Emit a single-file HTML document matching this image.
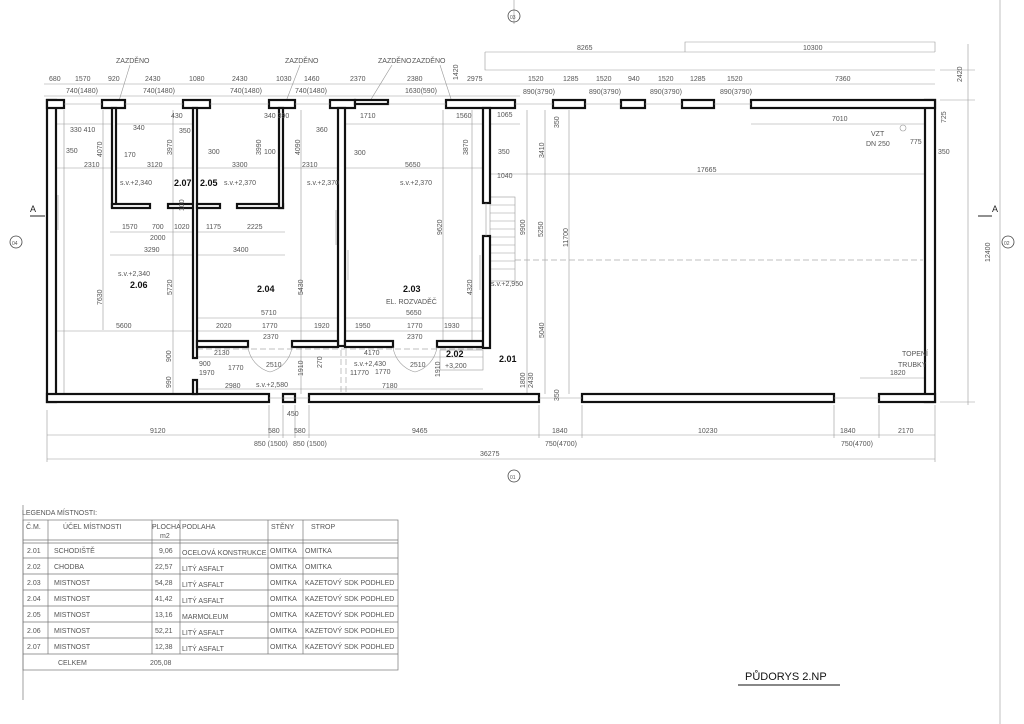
<!DOCTYPE html>
<html><head><meta charset="utf-8"><style>
html,body{margin:0;padding:0;background:#fff;width:1024px;height:724px;overflow:hidden}
svg{display:block}
text{font-family:"Liberation Sans",sans-serif;fill:#555;font-size:7px}
.b{fill:#111;font-weight:bold;font-size:9px}
.w{fill:#fff;stroke:#111;stroke-width:2.2}
.d{stroke:#999;stroke-width:0.6;fill:none}
.dd{stroke:#aaa;stroke-width:0.7;fill:none;stroke-dasharray:6 3}
.t{font-size:7px;fill:#666}
</style></head><body>
<svg width="1024" height="724" viewBox="0 0 1024 724" xmlns="http://www.w3.org/2000/svg">
<g class="d">
<line x1="44" y1="84" x2="935" y2="84"/>
<line x1="44" y1="96" x2="520" y2="96"/>
<line x1="485" y1="52" x2="935" y2="52"/>
<polyline points="685,52 685,42 935,42 935,52"/>
<polyline points="485,52 485,70 935,70"/>
<line x1="968" y1="44" x2="968" y2="405"/>
<line x1="940" y1="70" x2="975" y2="70"/>
<line x1="940" y1="100" x2="975" y2="100"/>
<line x1="940" y1="402" x2="975" y2="402"/>
<line x1="56" y1="168" x2="490" y2="168"/>
<line x1="490" y1="174" x2="935" y2="174"/>
<line x1="751" y1="124" x2="925" y2="124"/>
<line x1="47" y1="435" x2="935" y2="435"/>
<line x1="47" y1="459" x2="935" y2="459"/>
<line x1="47" y1="410" x2="47" y2="462"/>
<line x1="269" y1="405" x2="269" y2="438"/>
<line x1="283" y1="405" x2="283" y2="438"/>
<line x1="295" y1="405" x2="295" y2="438"/>
<line x1="309" y1="405" x2="309" y2="438"/>
<line x1="539" y1="405" x2="539" y2="438"/>
<line x1="582" y1="405" x2="582" y2="438"/>
<line x1="834" y1="405" x2="834" y2="438"/>
<line x1="879" y1="405" x2="879" y2="438"/>
<line x1="935" y1="405" x2="935" y2="462"/>
<line x1="527" y1="110" x2="527" y2="394"/>
<line x1="545" y1="110" x2="545" y2="394"/>
<line x1="569" y1="110" x2="569" y2="394"/>
<line x1="64" y1="110" x2="64" y2="394"/>
<line x1="103" y1="110" x2="103" y2="330"/>
<line x1="173" y1="110" x2="173" y2="394"/>
<line x1="301" y1="110" x2="301" y2="394"/>
<line x1="443" y1="110" x2="443" y2="346"/>
<line x1="472" y1="110" x2="472" y2="346"/>
<line x1="56" y1="331" x2="193" y2="331"/>
<line x1="197" y1="318" x2="338" y2="318"/>
<line x1="197" y1="331" x2="338" y2="331"/>
<line x1="345" y1="318" x2="483" y2="318"/>
<line x1="345" y1="331" x2="483" y2="331"/>
<line x1="110" y1="232" x2="193" y2="232"/>
<line x1="110" y1="255" x2="193" y2="255"/>
<line x1="197" y1="232" x2="285" y2="232"/>
<line x1="197" y1="255" x2="285" y2="255"/>
<line x1="197" y1="389" x2="483" y2="389"/>
<line x1="197" y1="357" x2="483" y2="357"/>
<line x1="56" y1="124" x2="193" y2="124"/>
<line x1="345" y1="124" x2="440" y2="124"/>
<line x1="440" y1="124" x2="483" y2="124"/>
<line x1="490" y1="124" x2="520" y2="124"/>
<line x1="860" y1="378" x2="925" y2="378"/>
<line x1="514" y1="0" x2="514" y2="24"/>
<line x1="1000" y1="0" x2="1000" y2="724"/>
<line x1="130" y1="65" x2="118" y2="104"/><line x1="300" y1="65" x2="285" y2="104"/><line x1="392" y1="65" x2="370" y2="101"/><line x1="440" y1="65" x2="452" y2="102"/>
</g>
<line class="dd" x1="515" y1="260" x2="923" y2="260"/>
<line class="dd" x1="197" y1="349" x2="483" y2="349"/>
<line class="dd" x1="341" y1="350" x2="341" y2="394"/>
<line class="dd" x1="346" y1="350" x2="346" y2="394"/>
<g class="d">
<rect x="490" y="197" width="25" height="84"/>
<line x1="490" y1="205" x2="515" y2="205"/><line x1="490" y1="213" x2="515" y2="213"/><line x1="490" y1="221" x2="515" y2="221"/><line x1="490" y1="229" x2="515" y2="229"/><line x1="490" y1="237" x2="515" y2="237"/><line x1="490" y1="245" x2="515" y2="245"/><line x1="490" y1="253" x2="515" y2="253"/><line x1="490" y1="261" x2="515" y2="261"/><line x1="490" y1="269" x2="515" y2="269"/>
</g>
<rect class="w" x="47" y="100" width="9" height="302"/>
<rect class="w" x="925" y="100" width="10" height="302"/>
<rect class="w" x="47" y="100" width="17" height="8"/>
<rect class="w" x="102" y="100" width="23" height="8"/>
<rect class="w" x="183" y="100" width="27" height="8"/>
<rect class="w" x="269" y="100" width="26" height="8"/>
<rect class="w" x="330" y="100" width="25" height="8"/>
<rect class="w" x="355" y="100" width="33" height="4"/>
<rect class="w" x="446" y="100" width="69" height="8"/>
<rect class="w" x="553" y="100" width="32" height="8"/>
<rect class="w" x="621" y="100" width="24" height="8"/>
<rect class="w" x="682" y="100" width="32" height="8"/>
<rect class="w" x="751" y="100" width="184" height="8"/>
<rect class="w" x="47" y="394" width="222" height="8"/>
<rect class="w" x="283" y="394" width="12" height="8"/>
<rect class="w" x="309" y="394" width="230" height="8"/>
<rect class="w" x="582" y="394" width="252" height="8"/>
<rect class="w" x="879" y="394" width="56" height="8"/>
<g class="d"><line x1="64" y1="104" x2="102" y2="104"/><line x1="125" y1="104" x2="183" y2="104"/><line x1="210" y1="104" x2="269" y2="104"/><line x1="295" y1="104" x2="330" y2="104"/><line x1="388" y1="104" x2="446" y2="104"/><line x1="515" y1="104" x2="553" y2="104"/><line x1="585" y1="104" x2="621" y2="104"/><line x1="645" y1="104" x2="682" y2="104"/><line x1="714" y1="104" x2="751" y2="104"/><line x1="539" y1="398" x2="582" y2="398"/><line x1="834" y1="398" x2="879" y2="398"/><line x1="269" y1="398" x2="309" y2="398"/></g>
<rect class="w" x="112" y="108" width="4" height="99"/>
<rect class="w" x="112" y="204" width="38" height="4"/>
<rect class="w" x="168" y="204" width="29" height="4"/>
<rect class="w" x="193" y="108" width="4" height="250"/>
<rect class="w" x="193" y="380" width="4" height="14"/>
<rect class="w" x="197" y="204" width="23" height="4"/>
<rect class="w" x="237" y="204" width="46" height="4"/>
<rect class="w" x="279" y="108" width="4" height="100"/>
<rect class="w" x="338" y="108" width="7" height="238"/>
<rect class="w" x="197" y="341" width="51" height="6"/>
<rect class="w" x="292" y="341" width="46" height="6"/>
<rect class="w" x="345" y="341" width="48" height="6"/>
<rect class="w" x="437" y="341" width="46" height="6"/>
<rect class="w" x="483" y="108" width="7" height="95"/>
<rect class="w" x="483" y="236" width="7" height="112"/>
<g class="d"><line x1="486" y1="203" x2="486" y2="236"/><line x1="58" y1="195" x2="58" y2="230"/><line x1="336" y1="210" x2="336" y2="245"/><line x1="348" y1="250" x2="348" y2="280"/><line x1="480" y1="255" x2="480" y2="290"/><path d="M248,347 A30,30 0 0 0 270,372"/><path d="M292,347 A30,30 0 0 1 270,372"/><path d="M393,347 A30,30 0 0 0 415,372"/><path d="M437,347 A30,30 0 0 1 415,372"/><rect x="440" y="350" width="43" height="20"/><circle cx="903" cy="128" r="3"/></g>
<text class="b" x="174" y="186">2.07</text><text class="b" x="200" y="186">2.05</text>
<text class="b" x="257" y="292">2.04</text><text class="b" x="130" y="288">2.06</text>
<text class="b" x="403" y="292">2.03</text><text class="b" x="446" y="357">2.02</text><text class="b" x="499" y="362">2.01</text>
<text x="120" y="185">s.v.+2,340</text><text x="224" y="185">s.v.+2,370</text><text x="307" y="185">s.v.+2,370</text><text x="400" y="185">s.v.+2,370</text>
<text x="118" y="276">s.v.+2,340</text><text x="386" y="304">EL. ROZVADĚČ</text><text x="354" y="366">s.v.+2,430</text>
<text x="256" y="387">s.v.+2,580</text><text x="445" y="368">+3,200</text><text x="491" y="286">s.v.+2,950</text>
<text x="871" y="136">VZT</text><text x="866" y="146">DN 250</text><text x="902" y="356">TOPENÍ</text><text x="898" y="367">TRUBKY</text>
<text x="116" y="63">ZAZDĚNO</text><text x="285" y="63">ZAZDĚNO</text><text x="378" y="63">ZAZDĚNO</text><text x="412" y="63">ZAZDĚNO</text>
<g class="t">
<text x="49" y="81">680</text><text x="75" y="81">1570</text><text x="108" y="81">920</text><text x="145" y="81">2430</text><text x="189" y="81">1080</text><text x="232" y="81">2430</text><text x="276" y="81">1030</text><text x="304" y="81">1460</text><text x="350" y="81">2370</text><text x="407" y="81">2380</text><text x="467" y="81">2975</text>
<text x="528" y="81">1520</text><text x="563" y="81">1285</text><text x="596" y="81">1520</text><text x="628" y="81">940</text><text x="658" y="81">1520</text><text x="690" y="81">1285</text><text x="727" y="81">1520</text><text x="835" y="81">7360</text>
<text x="66" y="93">740(1480)</text><text x="143" y="93">740(1480)</text><text x="230" y="93">740(1480)</text><text x="295" y="93">740(1480)</text><text x="405" y="93">1630(590)</text>
<text x="523" y="94">890(3790)</text><text x="589" y="94">890(3790)</text><text x="650" y="94">890(3790)</text><text x="720" y="94">890(3790)</text>
<text x="577" y="50">8265</text><text x="803" y="50">10300</text>
<text x="84" y="167">2310</text><text x="147" y="167">3120</text><text x="232" y="167">3300</text><text x="302" y="167">2310</text><text x="405" y="167">5650</text><text x="697" y="172">17665</text>
<text x="832" y="121">7010</text><text x="66" y="153">350</text><text x="124" y="157">170</text><text x="208" y="154">300</text><text x="354" y="155">300</text><text x="498" y="154">350</text><text x="497" y="117">1065</text><text x="497" y="178">1040</text><text x="360" y="118">1710</text><text x="456" y="118">1560</text><text x="910" y="144">775</text><text x="938" y="154">350</text>
<text x="70" y="132">330 410</text><text x="133" y="130">340</text><text x="179" y="133">350</text><text x="316" y="132">360</text><text x="171" y="118">430</text><text x="264" y="118">340 390</text><text x="264" y="154">100</text>
<text x="122" y="229">1570</text><text x="152" y="229">700</text><text x="174" y="229">1020</text><text x="150" y="240">2000</text><text x="206" y="229">1175</text><text x="247" y="229">2225</text><text x="144" y="252">3290</text><text x="233" y="252">3400</text>
<text x="116" y="328">5600</text><text x="261" y="315">5710</text><text x="216" y="328">2020</text><text x="262" y="328">1770</text><text x="314" y="328">1920</text><text x="406" y="315">5650</text><text x="355" y="328">1950</text><text x="407" y="328">1770</text><text x="444" y="328">1930</text>
<text x="263" y="339">2370</text><text x="407" y="339">2370</text><text x="214" y="355">2130</text><text x="228" y="370">1770</text><text x="266" y="367">2510</text><text x="364" y="355">4170</text><text x="350" y="375">11770</text><text x="375" y="374">1770</text><text x="410" y="367">2510</text>
<text x="225" y="388">2980</text><text x="382" y="388">7180</text><text x="199" y="366">900</text><text x="199" y="375">1970</text><text x="890" y="375">1820</text>
<text x="150" y="433">9120</text><text x="268" y="433">580</text><text x="294" y="433">580</text><text x="287" y="416">450</text><text x="412" y="433">9465</text><text x="552" y="433">1840</text><text x="698" y="433">10230</text><text x="840" y="433">1840</text><text x="898" y="433">2170</text>
<text x="254" y="446">850 (1500)</text><text x="293" y="446">850 (1500)</text><text x="545" y="446">750(4700)</text><text x="841" y="446">750(4700)</text><text x="480" y="456">36275</text>
</g>
<g class="t">
<text transform="translate(102,157) rotate(-90)">4070</text><text transform="translate(172,155) rotate(-90)">3970</text><text transform="translate(261,155) rotate(-90)">3990</text><text transform="translate(300,155) rotate(-90)">4090</text><text transform="translate(468,155) rotate(-90)">3870</text><text transform="translate(544,158) rotate(-90)">3410</text><text transform="translate(559,128) rotate(-90)">350</text>
<text transform="translate(172,295) rotate(-90)">5720</text><text transform="translate(102,305) rotate(-90)">7630</text><text transform="translate(303,295) rotate(-90)">5430</text><text transform="translate(442,235) rotate(-90)">9620</text><text transform="translate(472,295) rotate(-90)">4320</text>
<text transform="translate(525,235) rotate(-90)">9900</text><text transform="translate(543,237) rotate(-90)">5250</text><text transform="translate(568,247) rotate(-90)">11700</text><text transform="translate(544,338) rotate(-90)">5040</text><text transform="translate(525,388) rotate(-90)">1800</text><text transform="translate(533,388) rotate(-90)">2430</text><text transform="translate(559,401) rotate(-90)">350</text>
<text transform="translate(171,362) rotate(-90)">900</text><text transform="translate(171,388) rotate(-90)">990</text><text transform="translate(303,376) rotate(-90)">1910</text><text transform="translate(322,368) rotate(-90)">270</text><text transform="translate(440,377) rotate(-90)">1910</text><text transform="translate(184,211) rotate(-90)">100</text>
<text transform="translate(458,80) rotate(-90)">1420</text><text transform="translate(962,82) rotate(-90)">2420</text><text transform="translate(990,262) rotate(-90)">12400</text><text transform="translate(946,123) rotate(-90)">725</text>
</g>
<text x="30" y="212" style="font-size:9px;fill:#222">A</text><line x1="30" y1="216" x2="45" y2="216" stroke="#222" stroke-width="1"/>
<text x="992" y="212" style="font-size:9px;fill:#222">A</text><line x1="978" y1="216" x2="992" y2="216" stroke="#222" stroke-width="1"/>
<circle cx="16" cy="242" r="6" fill="none" stroke="#444" stroke-width="0.8"/><text x="12" y="245" style="font-size:5px">04</text>
<circle cx="1008" cy="242" r="6" fill="none" stroke="#444" stroke-width="0.8"/><text x="1004" y="245" style="font-size:5px">02</text>
<circle cx="514" cy="16" r="6" fill="none" stroke="#444" stroke-width="0.8"/><text x="510" y="19" style="font-size:5px">03</text>
<circle cx="514" cy="476" r="6" fill="none" stroke="#444" stroke-width="0.8"/><text x="510" y="479" style="font-size:5px">01</text>
<text x="22" y="515" style="font-size:7px">LEGENDA MÍSTNOSTI:</text>
<g stroke="#777" stroke-width="0.7" fill="none">
<line x1="23" y1="505" x2="23" y2="700"/>
<rect x="23" y="520" width="375" height="150"/>
<line x1="23" y1="540" x2="398" y2="540"/><line x1="23" y1="543" x2="398" y2="543"/>
<line x1="23" y1="558" x2="398" y2="558"/><line x1="23" y1="574" x2="398" y2="574"/><line x1="23" y1="590" x2="398" y2="590"/><line x1="23" y1="606" x2="398" y2="606"/><line x1="23" y1="622" x2="398" y2="622"/><line x1="23" y1="638" x2="398" y2="638"/><line x1="23" y1="654" x2="398" y2="654"/>
<line x1="48" y1="520" x2="48" y2="654"/><line x1="152" y1="520" x2="152" y2="654"/><line x1="180" y1="520" x2="180" y2="654"/><line x1="268" y1="520" x2="268" y2="654"/><line x1="303" y1="520" x2="303" y2="654"/>
</g>
<g style="font-size:7px">
<text x="26" y="529">Č.M.</text><text x="63" y="529">ÚČEL MÍSTNOSTI</text><text x="152" y="529">PLOCHA</text><text x="160" y="538">m2</text><text x="182" y="529">PODLAHA</text><text x="271" y="529">STĚNY</text><text x="311" y="529">STROP</text>
<text x="27" y="553">2.01</text><text x="54" y="553">SCHODIŠTĚ</text><text x="159" y="553">9,06</text><text x="182" y="555">OCELOVÁ KONSTRUKCE</text><text x="270" y="553">OMITKA</text><text x="305" y="553">OMITKA</text>
<text x="27" y="569">2.02</text><text x="54" y="569">CHODBA</text><text x="155" y="569">22,57</text><text x="182" y="571">LITÝ ASFALT</text><text x="270" y="569">OMITKA</text><text x="305" y="569">OMITKA</text>
<text x="27" y="585">2.03</text><text x="54" y="585">MISTNOST</text><text x="155" y="585">54,28</text><text x="182" y="587">LITÝ ASFALT</text><text x="270" y="585">OMITKA</text><text x="305" y="585">KAZETOVÝ SDK PODHLED</text>
<text x="27" y="601">2.04</text><text x="54" y="601">MISTNOST</text><text x="155" y="601">41,42</text><text x="182" y="603">LITÝ ASFALT</text><text x="270" y="601">OMITKA</text><text x="305" y="601">KAZETOVÝ SDK PODHLED</text>
<text x="27" y="617">2.05</text><text x="54" y="617">MISTNOST</text><text x="155" y="617">13,16</text><text x="182" y="619">MARMOLEUM</text><text x="270" y="617">OMITKA</text><text x="305" y="617">KAZETOVÝ SDK PODHLED</text>
<text x="27" y="633">2.06</text><text x="54" y="633">MISTNOST</text><text x="155" y="633">52,21</text><text x="182" y="635">LITÝ ASFALT</text><text x="270" y="633">OMITKA</text><text x="305" y="633">KAZETOVÝ SDK PODHLED</text>
<text x="27" y="649">2.07</text><text x="54" y="649">MISTNOST</text><text x="155" y="649">12,38</text><text x="182" y="651">LITÝ ASFALT</text><text x="270" y="649">OMITKA</text><text x="305" y="649">KAZETOVÝ SDK PODHLED</text>
<text x="58" y="665">CELKEM</text><text x="150" y="665">205,08</text>
</g>
<text x="745" y="680" style="font-size:11px;fill:#111">PŮDORYS 2.NP</text>
<line x1="738" y1="685" x2="840" y2="685" stroke="#111" stroke-width="1"/>
</svg>
</body></html>
